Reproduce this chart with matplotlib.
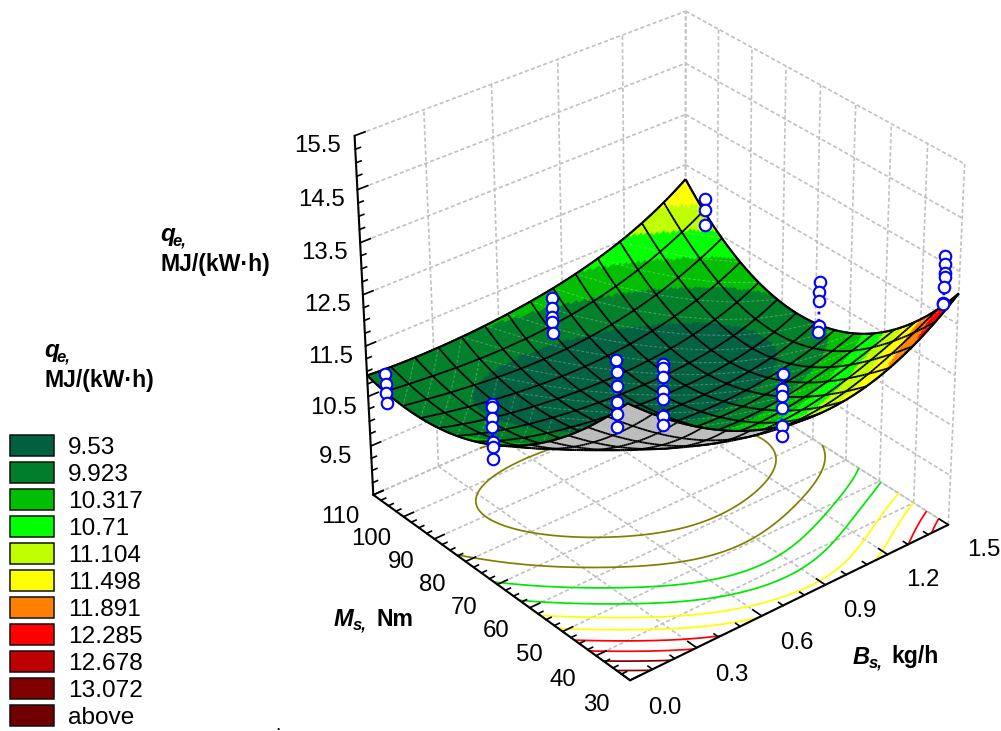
import numpy as np
import matplotlib
matplotlib.use("Agg")
import matplotlib.pyplot as plt
from matplotlib.patches import Rectangle
from mpl_toolkits.mplot3d.art3d import Poly3DCollection, Line3DCollection

W, H = 1001, 731
plt.rcParams['font.family'] = ['Liberation Sans', 'DejaVu Sans']

# ---- data ----
B_nodes = [0.0, 0.25, 0.5, 0.75, 1.0, 1.25, 1.5]
M_nodes = [30, 40, 50, 60, 70, 80, 90, 100, 110]
q_b000 = [13.50, 12.46, 11.60, 10.89, 10.36, 9.99, 9.80, 9.80, 9.92]
q_b025 = [12.42, 11.46, 10.79, 10.23, 9.84, 9.60, 9.50, 9.58, 9.88]
q_b050 = [11.68, 10.82, 10.18, 9.72, 9.44, 9.33, 9.35, 9.52, 9.92]
q_b075 = [11.27, 10.50, 9.98, 9.60, 9.35, 9.24, 9.29, 9.52, 10.08]
q_b100 = [11.30, 10.60, 10.02, 9.60, 9.35, 9.25, 9.32, 9.62, 10.35]
q_b125 = [11.74, 10.95, 10.28, 9.68, 9.42, 9.42, 9.62, 10.10, 10.80]
q_b150 = [12.62, 11.52, 10.69, 10.12, 9.88, 9.90, 10.15, 10.65, 11.55]

levels = [9.53, 9.923, 10.317, 10.71, 11.104, 11.498, 11.891, 12.285, 12.678, 13.072]
level_labels = ['9.53', '9.923', '10.317', '10.71', '11.104', '11.498', '11.891',
                '12.285', '12.678', '13.072', 'above']
band_colors = ['#006040', '#007f28', '#00be00', '#00ff00', '#bfff00', '#ffff00',
               '#ff8000', '#ff0000', '#bf0000', '#800000', '#700000']
contour_colors = ['#808000', '#808000', '#00e800', '#00e800', '#ffff00', '#ffff00',
                  '#ff0000', '#ff0000', '#800000', '#800000']

B_ticks = [0.0, 0.3, 0.6, 0.9, 1.2, 1.5]
M_ticks = [30, 40, 50, 60, 70, 80, 90, 100, 110]
Z_ticks = [8.5, 9.5, 10.5, 11.5, 12.5, 13.5, 14.5, 15.5]

# measured design points: one (B, M) per column, several responses in each
col_B = [0.08, 0.0, 0.85, 0.0, 0.77, 0.68, 1.5, 1.5, 1.5]
col_M = [110, 70, 110, 33, 70, 30, 69, 104, 34]
col_z = [
    [10.79, 10.61, 10.42, 10.22],
    [12.05, 11.99, 11.79, 11.62, 11.32, 11.23, 10.99],
    [10.92, 10.73, 10.54, 10.44, 10.21],
    [14.44, 14.21, 13.96, 13.67, 13.46, 13.21],
    [11.39, 11.31, 11.15, 10.86, 10.70, 10.37, 10.19],
    [13.04, 12.77, 12.63, 12.40, 12.06, 11.88],
    [11.74, 11.54, 11.36, 10.86, 10.74],
    [12.03, 11.82, 11.52],
    [13.64, 13.48, 13.32, 13.23, 13.04, 12.74, 12.72],
]

# ---- camera calibrated on the corners of the plot box ----
box_world = np.array([[0, 30, 8.5], [1.5, 30, 8.5], [0, 110, 8.5], [1.5, 110, 8.5],
                      [0, 110, 15.5], [1.5, 110, 15.5], [1.5, 30, 15.5]], float)
box_pixel = np.array([[630, 683], [948, 521], [372, 491], [687, 363],
                      [356, 137], [684, 9], [965, 165]], float)
rows = []
for (x, y, z), (u, v) in zip(box_world, box_pixel):
    rows.append([x, y, z, 1, 0, 0, 0, 0, -u * x, -u * y, -u * z, -u])
    rows.append([0, 0, 0, 0, x, y, z, 1, -v * x, -v * y, -v * z, -v])
rows = np.array(rows)
scale = np.array([1, 100, 10, 1, 1, 100, 10, 1, 1, 100, 10, 1], float)
_, _, vt = np.linalg.svd(rows * scale)
P = (vt[-1] * scale).reshape(3, 4)
P = P / (P[2] @ np.array([0.75, 70, 12, 1.0]))


def to_pixels(x, y, z):
    x, y, z = np.asarray(x, float), np.asarray(y, float), np.asarray(z, float)
    h = P @ np.stack([x, y, z, np.ones_like(x)], axis=0).reshape(4, -1)
    return (h[0] / h[2]).reshape(x.shape), (h[1] / h[2]).reshape(x.shape)


fig = plt.figure(figsize=(W / 100, H / 100), dpi=100, facecolor='white')
side = W / H
ax = fig.add_axes([0, (1 - side) / 2, 1, side], projection='3d', computed_zorder=False)
ax.set_axis_off()
ax.set_proj_type('ortho')  # switches off the view-box clipping of lines
ax.set_xlim(0, 1.5)
ax.set_ylim(30, 110)
ax.set_zlim(8.5, 15.5)


def camera_proj():
    inv = ax.transData.inverted()
    p0 = inv.transform((0, 0))
    p1 = inv.transform((W, H))
    sx = (p1[0] - p0[0]) / W
    sy = (p1[1] - p0[1]) / H
    M = np.zeros((4, 4))
    M[0] = sx * P[0] + p0[0] * P[2]
    M[1] = -sy * P[1] + p1[1] * P[2]
    M[3] = P[2]
    M[2] = P[2] - np.array([0, 0, 0, 0.5])
    return M


ax.get_proj = camera_proj

# ---- walls and floor ----
grid_kw = dict(color='#c0c0c0', lw=1.2, ls=(0, (2.4, 1.5)), zorder=1)
zlo, zhi = Z_ticks[0], Z_ticks[-1]
Blo, Bhi = B_ticks[0], B_ticks[-1]
Mlo, Mhi = M_ticks[0], M_ticks[-1]
for z in Z_ticks:
    ax.plot([Blo, Bhi], [Mhi, Mhi], [z, z], **grid_kw)
    ax.plot([Bhi, Bhi], [Mhi, Mlo], [z, z], **grid_kw)
for b in B_ticks:
    if b > Blo:
        ax.plot([b, b], [Mhi, Mhi], [zlo, zhi], **grid_kw)
    ax.plot([b, b], [Mlo, Mhi], [zlo, zlo], **grid_kw)
for m in M_ticks:
    ax.plot([Bhi, Bhi], [m, m], [zlo, zhi], **grid_kw)
    ax.plot([Blo, Bhi], [m, m], [zlo, zlo], **grid_kw)

# ---- surface ----
q_table = np.array([q_b000, q_b025, q_b050, q_b075, q_b100, q_b125, q_b150])
CELLS, SUB = 14, 10
nf = CELLS * SUB + 1
Bf = np.linspace(Blo, Bhi, nf)
Mf = np.linspace(Mlo, Mhi, nf)
tmp = np.array([np.polyval(np.polyfit(M_nodes, r, 4), Mf) for r in q_table])
Q = np.array([np.polyval(np.polyfit(B_nodes, tmp[:, j], 4), Bf) for j in range(nf)]).T
BB, MM = np.meshgrid(Bf, Mf, indexing='ij')
Zs = 0.8 * Q + 2.98  # height of the drawn sheet against the printed z axis

ax.contour(BB, MM, Q, levels=levels, colors=contour_colors, linewidths=1.25,
           zdir='z', offset=zlo, zorder=2)

u, v = to_pixels(BB, MM, Zs)
d1x, d1y = u[1:, 1:] - u[:-1, :-1], v[1:, 1:] - v[:-1, :-1]
d2x, d2y = u[1:, :-1] - u[:-1, 1:], v[1:, :-1] - v[:-1, 1:]
area = d1x * d2y - d1y * d2x
top = np.sign(area) == np.sign(area[nf // 2, nf // 2])

corners = np.stack([
    np.stack([BB[:-1, :-1], MM[:-1, :-1], Zs[:-1, :-1]], -1),
    np.stack([BB[1:, :-1], MM[1:, :-1], Zs[1:, :-1]], -1),
    np.stack([BB[1:, 1:], MM[1:, 1:], Zs[1:, 1:]], -1),
    np.stack([BB[:-1, 1:], MM[:-1, 1:], Zs[:-1, 1:]], -1)], axis=2)
qmean = (Q[:-1, :-1] + Q[1:, :-1] + Q[1:, 1:] + Q[:-1, 1:]) / 4
band = np.digitize(qmean, levels)
face_rgb = np.array([matplotlib.colors.to_rgba(c) for c in band_colors])[band]

ax.add_collection3d(Poly3DCollection(corners[top], facecolors=face_rgb[top],
                                     edgecolors=face_rgb[top], linewidths=0.4, zorder=3),
                    autolim=False)
ax.add_collection3d(Poly3DCollection(corners[~top], facecolors='#c0c0c0',
                                     edgecolors='#c0c0c0', linewidths=0.4, zorder=5),
                    autolim=False)

top_segs, under_segs, fold_segs, edge_segs = [], [], [], []
nc = nf - 1
for i in range(0, nf, SUB):
    for j in range(nc):
        seg = [(BB[i, j], MM[i, j], Zs[i, j]), (BB[i, j + 1], MM[i, j + 1], Zs[i, j + 1])]
        nb = top[min(i, nc - 1), j] or top[max(i - 1, 0), j]
        (top_segs if nb else under_segs).append(seg)
        if i in (0, nf - 1):
            edge_segs.append(seg)
for j in range(0, nf, SUB):
    for i in range(nc):
        seg = [(BB[i, j], MM[i, j], Zs[i, j]), (BB[i + 1, j], MM[i + 1, j], Zs[i + 1, j])]
        nb = top[i, min(j, nc - 1)] or top[i, max(j - 1, 0)]
        (top_segs if nb else under_segs).append(seg)
        if j in (0, nf - 1):
            edge_segs.append(seg)
for i in range(nc - 1):
    for j in range(nc):
        if top[i, j] != top[i + 1, j]:
            fold_segs.append([(BB[i + 1, j], MM[i + 1, j], Zs[i + 1, j]),
                              (BB[i + 1, j + 1], MM[i + 1, j + 1], Zs[i + 1, j + 1])])
for i in range(nc):
    for j in range(nc - 1):
        if top[i, j] != top[i, j + 1]:
            fold_segs.append([(BB[i, j + 1], MM[i, j + 1], Zs[i, j + 1]),
                              (BB[i + 1, j + 1], MM[i + 1, j + 1], Zs[i + 1, j + 1])])

# faint dashed seam across each mesh cell, as the renderer of the original leaves them
seam_segs = []
for ci in range(CELLS):
    for cj in range(CELLS):
        i0, j0 = ci * SUB, cj * SUB
        if not top[i0 + SUB // 2, j0 + SUB // 2]:
            continue
        if ci < 4:
            a, b = (i0, j0), (i0 + SUB, j0 + SUB)
        else:
            a, b = (i0, j0 + SUB), (i0 + SUB, j0)
        seam_segs.append([(BB[a], MM[a], Zs[a]), (BB[b], MM[b], Zs[b])])

ax.add_collection3d(Line3DCollection(seam_segs, colors='#ffffff', linewidths=0.7, alpha=0.28,
                                     linestyles=[(0, (3, 2))], zorder=3.5), autolim=False)
ax.add_collection3d(Line3DCollection(top_segs, colors='k', linewidths=1.3, zorder=4), autolim=False)
ax.add_collection3d(Line3DCollection(under_segs, colors='k', linewidths=1.3, zorder=6), autolim=False)
ax.add_collection3d(Line3DCollection(edge_segs + fold_segs, colors='k', linewidths=1.5, zorder=7),
                    autolim=False)

# ---- axes lines and ticks ----
axis_kw = dict(color='k', lw=1.5, zorder=8, solid_capstyle='round')
tick_kw = dict(color='k', lw=1.2, zorder=8)
ax.plot([Blo, Blo], [Mhi, Mhi], [zlo, zhi], **axis_kw)
ax.plot([Blo, Blo], [Mlo, Mhi], [zlo, zlo], **axis_kw)
ax.plot([Blo, Bhi], [Mlo, Mlo], [zlo, zlo], **axis_kw)
for k in range(0, 29):
    z = zlo + k * 0.25
    d = 0.045 if k % 4 == 0 else 0.022
    ax.plot([Blo, Blo + d], [Mhi, Mhi], [z, z], **tick_kw)
for k in range(0, 33):
    m = Mlo + k * 2.5
    d = 0.045 if k % 4 == 0 else 0.022
    ax.plot([Blo, Blo + d], [m, m], [zlo, zlo], **tick_kw)
for k in range(0, 16):
    b = Blo + k * 0.1
    d = 2.6 if k % 3 == 0 else 1.3
    ax.plot([b, b], [Mlo, Mlo + d], [zlo, zlo], **tick_kw)

# ---- design points ----
for b, m, zs in zip(col_B, col_M, col_z):
    n = len(zs)
    ax.plot([b] * n, [m] * n, zs, color='#0000ff', ls=':', lw=2.0, zorder=9)
    ax.plot([b] * n, [m] * n, zs, ls='none', marker='o', ms=8.3, mfc='white', mec='#0000ff',
            mew=1.5, zorder=10)


# ---- text, placed in figure pixels ----
def ptext(x, y, s, **kw):
    kw.setdefault('va', 'center')
    kw.setdefault('ha', 'left')
    fig.text(float(x) / W, 1 - float(y) / H, s, **kw)


def tick_label(b, m, z, s):
    px, py = to_pixels(b, m, z)
    ptext(px, py, s, ha='center', fontsize=tick_font)


tick_font = 17.3
for z in Z_ticks[1:]:
    tick_label(Blo - 0.155, Mhi, z + 0.07, f'{z:.1f}')
for m in M_ticks:
    tick_label(Blo - 0.15, m, zlo - 0.16, f'{m}')
for b in B_ticks:
    tick_label(b, Mlo - 10, zlo - 0.06, f'{b:.1f}')


def q_title(x, y):
    ptext(x, y, 'q', fontsize=17.5, fontweight='bold', fontstyle='italic')
    ptext(x + 12, y + 6, 'e,', fontsize=12, fontweight='bold', fontstyle='italic')
    ptext(x, y + 30, 'MJ/(kW\u00b7h)', fontsize=16.6, fontweight='bold')


q_title(160, 235)
q_title(44, 351)
ptext(334, 619, 'M', fontsize=17, fontweight='bold', fontstyle='italic')
ptext(353, 625, 's,', fontsize=12, fontweight='bold', fontstyle='italic')
ptext(376, 619, 'Nm', fontsize=16.6, fontweight='bold')
ptext(853, 657, 'B', fontsize=17, fontweight='bold', fontstyle='italic')
ptext(869, 663, 's,', fontsize=12, fontweight='bold', fontstyle='italic')
ptext(891, 657, 'kg/h', fontsize=16.6, fontweight='bold')
ptext(275, 726, '.', fontsize=14)

for i, (c, lab) in enumerate(zip(band_colors, level_labels)):
    y0 = 435 + i * 27.0
    fig.add_artist(Rectangle((10 / W, 1 - (y0 + 21) / H), 44 / W, 21 / H, facecolor=c,
                             edgecolor='#101010', lw=1.1, transform=fig.transFigure))
    ptext(68, y0 + 13, lab, fontsize=tick_font + 0.3)

fig.savefig('out.png', dpi=100, facecolor='white')
